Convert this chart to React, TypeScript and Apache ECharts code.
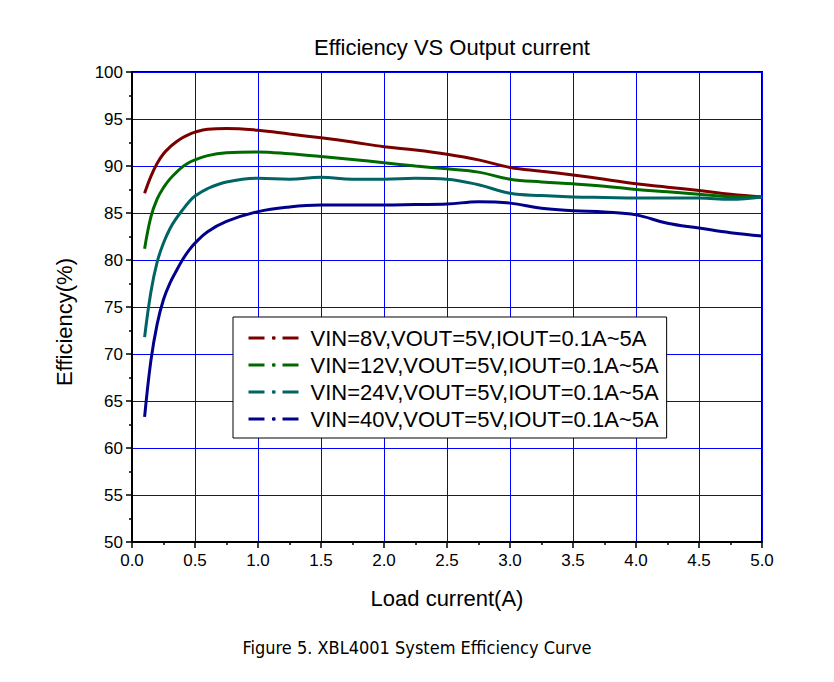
import React, { useEffect, useRef } from "react";
import * as echarts from "echarts";

const current = [0.1, 0.15, 0.2, 0.25, 0.3, 0.35, 0.4, 0.45, 0.5, 0.6, 0.75, 1.0, 1.25, 1.5, 1.75, 2.0, 2.25, 2.5, 2.75, 3.0, 3.25, 3.5, 3.75, 4.0, 4.25, 4.5, 4.75, 5.0];

const vin8 = [87.1, 88.9, 90.3, 91.3, 92.0, 92.55, 93.0, 93.35, 93.6, 93.9, 94.0, 93.8, 93.4, 93.0, 92.55, 92.05, 91.7, 91.25, 90.65, 89.85, 89.45, 89.05, 88.6, 88.1, 87.75, 87.4, 87.0, 86.7];
const vin12 = [81.2, 84.6, 86.5, 87.7, 88.6, 89.3, 89.9, 90.35, 90.65, 91.1, 91.4, 91.5, 91.3, 91.0, 90.7, 90.35, 90.0, 89.7, 89.35, 88.6, 88.3, 88.1, 87.85, 87.5, 87.25, 87.0, 86.75, 86.7];
const vin24 = [71.8, 76.6, 79.8, 81.8, 83.3, 84.4, 85.3, 86.15, 86.8, 87.6, 88.3, 88.7, 88.6, 88.8, 88.6, 88.6, 88.7, 88.6, 88.0, 87.1, 86.85, 86.7, 86.65, 86.6, 86.6, 86.6, 86.45, 86.7];
const vin40 = [63.3, 69.3, 73.2, 75.8, 77.5, 78.8, 80.0, 81.0, 81.8, 83.0, 84.1, 85.15, 85.65, 85.85, 85.85, 85.85, 85.9, 85.95, 86.2, 86.05, 85.5, 85.25, 85.1, 84.8, 83.9, 83.4, 82.9, 82.55];

const seriesNames = [
  "VIN=8V,VOUT=5V,IOUT=0.1A~5A",
  "VIN=12V,VOUT=5V,IOUT=0.1A~5A",
  "VIN=24V,VOUT=5V,IOUT=0.1A~5A",
  "VIN=40V,VOUT=5V,IOUT=0.1A~5A",
];
const seriesValues = [vin8, vin12, vin24, vin40];
const seriesColors = ["#7a0000", "#006a00", "#006464", "#00008b"];

const titleText = "Efficiency VS Output current";
const xName = "Load current(A)";
const yName = "Efficiency(%)";
const caption = "Figure 5. XBL4001 System Efficiency Curve";

const FONT = "'Liberation Sans', Arial, sans-serif";

export default function App() {
  const ref = useRef<HTMLDivElement>(null);
  useEffect(() => {
    if (!ref.current) return;
    const chart = echarts.init(ref.current, null, { renderer: "svg" });
    const option = {
      animation: false,
      backgroundColor: "#ffffff",
      title: {
        text: titleText,
        left: 447,
        top: 31,
        textAlign: "center",
        textStyle: { fontFamily: FONT, fontSize: 22, fontWeight: "normal", color: "#000" },
      },
      grid: {
        left: 132,
        right: 72,
        top: 72,
        bottom: 140,
        show: true,
        borderColor: "#000",
        borderWidth: 2,
      },
      legend: {
        orient: "vertical",
        left: 233,
        top: 317,
        backgroundColor: "#fff",
        borderColor: "#000",
        borderWidth: 1,
        padding: [10, 8, 8, 14],
        itemWidth: 50,
        itemHeight: 4,
        itemGap: 5,
        lineStyle: { width: 3, type: [16, 8, 3, 7] },
        textStyle: { fontFamily: FONT, fontSize: 22, color: "#000", lineHeight: 20, padding: [0, 0, 0, 7] },
        data: seriesNames,
      },
      xAxis: {
        type: "value",
        min: 0,
        max: 5,
        interval: 0.5,
        name: xName,
        nameLocation: "middle",
        nameGap: 45,
        nameTextStyle: { fontFamily: FONT, fontSize: 22, color: "#000" },
        axisLine: { show: true, onZero: false, lineStyle: { color: "#000", width: 2 } },
        axisTick: { show: true, inside: false, length: 6, lineStyle: { color: "#000", width: 1.5 } },
        minorTick: { show: true, splitNumber: 2, length: 3, lineStyle: { color: "#000", width: 1.5 } },
        axisLabel: {
          fontFamily: FONT,
          fontSize: 17,
          color: "#000",
          margin: 10,
          formatter: (v: number) => v.toFixed(1),
        },
        splitLine: { show: true, lineStyle: { color: "#0000ff", width: 1 } },
      },
      yAxis: {
        type: "value",
        min: 50,
        max: 100,
        interval: 5,
        axisLine: { show: true, onZero: false, lineStyle: { color: "#000", width: 2 } },
        axisTick: { show: true, inside: false, length: 6, lineStyle: { color: "#000", width: 1.5 } },
        minorTick: { show: true, splitNumber: 2, length: 3, lineStyle: { color: "#000", width: 1.5 } },
        axisLabel: { fontFamily: FONT, fontSize: 17, color: "#000", margin: 9 },
        splitLine: { show: true, lineStyle: { color: "#0000ff", width: 1 } },
      },
      graphic: [
        {
          type: "text",
          x: 64,
          y: 322,
          rotation: Math.PI / 2,
          style: {
            text: yName,
            fontFamily: FONT,
            fontSize: 22,
            fill: "#000",
            align: "center",
            verticalAlign: "middle",
          },
        },
        {
          type: "text",
          x: 417,
          y: 647,
          style: {
            text: caption,
            fontFamily: "'DejaVu Sans Condensed', 'DejaVu Sans', sans-serif",
            fontSize: 18,
            fill: "#000",
            align: "center",
            verticalAlign: "middle",
          },
        },
      ],
      series: seriesNames.map((name, i) => ({
        name,
        type: "line",
        smooth: 0.4,
        symbol: "none",
        showSymbol: false,
        color: seriesColors[i],
        lineStyle: { width: 3, color: seriesColors[i] },
        data: current.map((x, j) => [x, seriesValues[i][j]]),
        z: 3,
      })),
    };
    chart.setOption(option as any);
    return () => chart.dispose();
  }, []);
  return (
    <div
      ref={ref}
      style={{ position: "absolute", left: 0, top: 0, width: 834, height: 682 }}
    />
  );
}
